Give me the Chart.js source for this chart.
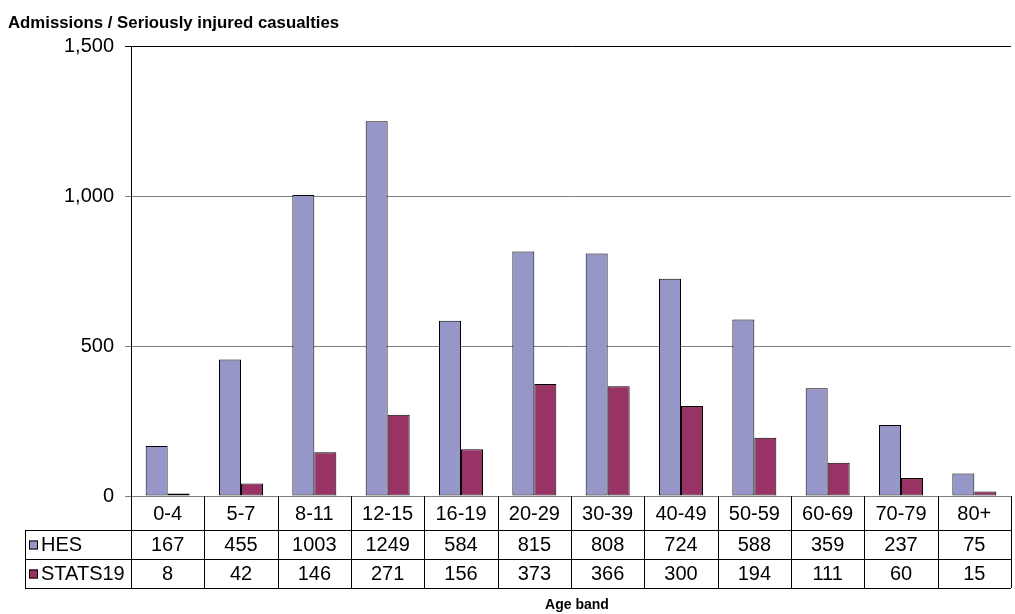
<!DOCTYPE html>
<html>
<head>
<meta charset="utf-8">
<script src="https://cdn.jsdelivr.net/npm/chart.js@4.4.0/dist/chart.umd.min.js"></script>
<style>
    html, body { margin: 0; padding: 0; background: #fff; }
</style>
</head>
<body>
<canvas id="ageChart" width="1015" height="614"></canvas>
<script>
// Admissions vs seriously injured casualties by age band
const ageBands = ['0-4', '5-7', '8-11', '12-15', '16-19', '20-29', '30-39', '40-49', '50-59', '60-69', '70-79', '80+'];
const hesValues = [167, 455, 1003, 1249, 584, 815, 808, 724, 588, 359, 237, 75];
const stats19Values = [8, 42, 146, 271, 156, 373, 366, 300, 194, 111, 60, 15];
const yTicks = [0, 500, 1000, 1500];

const FONT = '"Liberation Sans", Arial, sans-serif';
const HES_COLOR = '#9696c9';
const STATS_COLOR = '#993366';

const rows = [
    { label: 'HES', color: HES_COLOR, values: hesValues },
    { label: 'STATS19', color: STATS_COLOR, values: stats19Values },
];

// data table under the plot, aligned to the category scale
const dataTable = {
    id: 'dataTable',
    afterDraw(chart) {
        const { ctx, chartArea } = chart;
        const x = chart.scales.x;
        const colW = (chartArea.right - chartArea.left) / ageBands.length;
        const top = chartArea.bottom;
        const catBottom = top + 34;
        const rowH = 29;
        const tableBottom = catBottom + rowH * rows.length;
        const legendLeft = 25;

        ctx.save();
        ctx.strokeStyle = '#000';
        ctx.lineWidth = 1;
        ctx.beginPath();
        // column separators
        for (let i = 0; i <= ageBands.length; i++) {
            const px = Math.round(chartArea.left + i * colW) + 0.5;
            ctx.moveTo(px, top);
            ctx.lineTo(px, tableBottom);
        }
        // horizontal rules
        for (let r = 0; r <= rows.length; r++) {
            const py = catBottom + r * rowH + 0.5;
            ctx.moveTo(legendLeft, py);
            ctx.lineTo(chartArea.right, py);
        }
        ctx.moveTo(legendLeft + 0.5, catBottom);
        ctx.lineTo(legendLeft + 0.5, tableBottom);
        ctx.stroke();

        ctx.fillStyle = '#000';
        ctx.font = '20px ' + FONT;
        ctx.textAlign = 'center';
        ctx.textBaseline = 'middle';
        ageBands.forEach((band, i) => {
            ctx.fillText(band, x.getPixelForValue(i), top + 18);
        });
        rows.forEach((row, r) => {
            const cy = catBottom + r * rowH + rowH / 2 + 1;
            row.values.forEach((v, i) => {
                ctx.fillText(String(v), x.getPixelForValue(i), cy);
            });
            // legend key
            ctx.fillStyle = row.color;
            ctx.fillRect(29, cy - 5, 9, 9);
            ctx.strokeRect(29.5, cy - 4.5, 8, 8);
            ctx.fillStyle = '#000';
            ctx.textAlign = 'left';
            ctx.fillText(row.label, 41, cy);
            ctx.textAlign = 'center';
        });

        // axis titles
        ctx.textBaseline = 'alphabetic';
        ctx.textAlign = 'left';
        ctx.font = 'bold 16.8px ' + FONT;
        ctx.fillText('Admissions / Seriously injured casualties', 8, 28);
        ctx.textAlign = 'center';
        ctx.font = 'bold 14px ' + FONT;
        ctx.fillText('Age band', (chartArea.left + chartArea.right) / 2 + 6, 609);
        ctx.restore();
    }
};

new Chart(document.getElementById('ageChart'), {
    type: 'bar',
    data: {
        labels: ageBands,
        datasets: [
            {
                label: 'HES',
                data: hesValues,
                backgroundColor: HES_COLOR,
                borderColor: '#000',
                borderWidth: 1,
                borderSkipped: false,
                barPercentage: 1,
                categoryPercentage: 0.6,
            },
            {
                label: 'STATS19',
                data: stats19Values,
                backgroundColor: STATS_COLOR,
                borderColor: '#000',
                borderWidth: 1,
                borderSkipped: false,
                barPercentage: 1,
                categoryPercentage: 0.6,
            }
        ]
    },
    options: {
        responsive: false,
        animation: false,
        devicePixelRatio: 1,
        layout: { padding: { left: 0, right: 4, top: 46, bottom: 118 } },
        plugins: {
            legend: { display: false },
            tooltip: { enabled: false },
        },
        scales: {
            x: {
                display: false,
            },
            y: {
                min: 0,
                max: 1500,
                afterBuildTicks: axis => { axis.ticks = yTicks.map(v => ({ value: v })); },
                afterFit: axis => { axis.width = 131; },
                ticks: {
                    color: '#000',
                    font: { family: FONT, size: 20 },
                    padding: 11,
                    callback: v => v.toLocaleString('en-US'),
                },
                grid: {
                    color: ctx => ctx.tick && ctx.tick.value === 1500 ? '#000' : '#808080',
                    lineWidth: 1,
                    tickLength: 6,
                },
                border: { color: '#000', width: 1 },
            }
        }
    },
    plugins: [dataTable]
});
</script>
</body>
</html>
